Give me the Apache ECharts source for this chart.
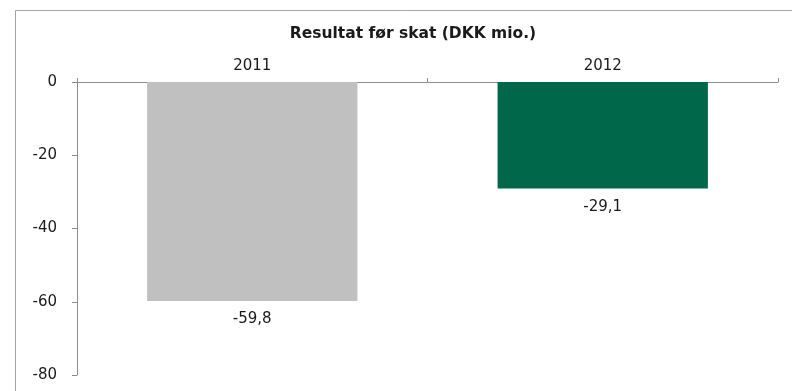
<!DOCTYPE html>
<html>
<head>
<meta charset="utf-8">
<script src="https://cdn.jsdelivr.net/npm/echarts@6/dist/echarts.min.js"></script>
<style>
  html, body { margin: 0; padding: 0; background: #fff; }
  #chart { width: 792px; height: 391px; }
</style>
</head>
<body>
<div id="chart"></div>
<script>
// Result before tax, DKK million
const years = ['2011', '2012'];
const resultBeforeTax = [-59.8, -29.1];
const barColors = ['#c0c0c0', '#00674a'];
const titleText = 'Resultat før skat (DKK mio.)';

const chart = echarts.init(document.getElementById('chart'));
const fontFamily = '"DejaVu Sans", Verdana, sans-serif';
const axisGray = '#8c8c8c';
const textColor = '#1a1a1a';

chart.setOption({
  animation: false,
  backgroundColor: '#ffffff',
  title: {
    text: titleText,
    left: 408,
    top: 21,
    textAlign: 'center',
    textStyle: { fontFamily, fontSize: 15.5, fontWeight: 'bold', color: textColor }
  },
  graphic: [{
    type: 'rect',
    shape: { x: 15.5, y: 10.5, width: 800, height: 400 },
    style: { fill: 'none', stroke: '#a6a6a6', lineWidth: 1 },
    silent: true,
    z: 0
  }],
  grid: { left: 77, right: 14, top: 82, bottom: 16 },
  xAxis: {
    type: 'category',
    position: 'top',
    data: years,
    axisLine: { lineStyle: { color: axisGray, width: 1 } },
    axisTick: { show: true, length: 4, lineStyle: { color: axisGray } },
    axisLabel: { fontFamily, fontSize: 15, color: textColor, margin: 8 },
    splitLine: { show: false }
  },
  yAxis: {
    type: 'value',
    min: -80,
    max: 0,
    interval: 20,
    axisLine: { show: true, lineStyle: { color: axisGray, width: 1 } },
    axisTick: { show: true, length: 5, lineStyle: { color: axisGray } },
    axisLabel: { fontFamily, fontSize: 15, color: textColor, margin: 20 },
    splitLine: { show: false }
  },
  series: [{
    type: 'bar',
    data: resultBeforeTax.map((v, i) => ({ value: v, itemStyle: { color: barColors[i] } })),
    barWidth: '60%',
    label: {
      show: true,
      position: 'bottom',
      distance: 11,
      fontFamily,
      fontSize: 15,
      color: textColor,
      formatter: p => String(p.value).replace('.', ',')
    }
  }]
});
</script>
</body>
</html>
